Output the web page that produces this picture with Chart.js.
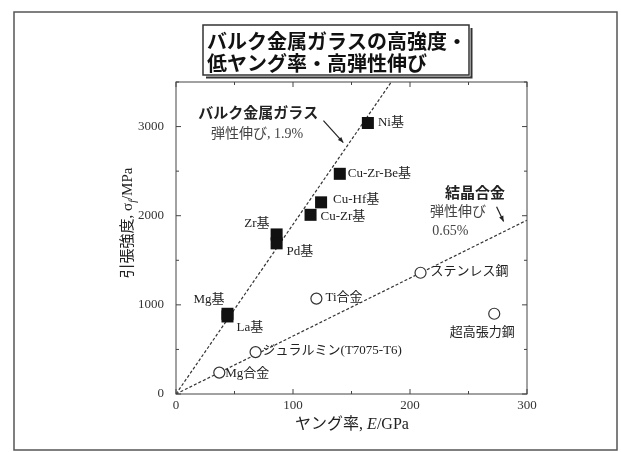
<!DOCTYPE html>
<html>
<head>
<meta charset="utf-8">
<script src="https://cdn.jsdelivr.net/npm/chart.js@4.4.0/dist/chart.umd.min.js"></script>
<style>
  body { margin: 0; background: #fff; }
  #wrap { width: 621px; height: 452px; }
</style>
</head>
<body>
<div id="wrap"><canvas id="chart" width="621" height="452"></canvas></div>
<script>
// Bulk metallic glasses (filled squares)
const glassNames = ['Ni基', 'Cu-Zr-Be基', 'Cu-Hf基', 'Cu-Zr基', 'Zr基', 'Pd基', 'Mg基', 'La基'];
const glassE = [164, 140, 124, 115, 86, 86, 44, 44];
const glassStrength = [3040, 2470, 2150, 2010, 1790, 1690, 900, 870];

// Crystalline alloys (open circles)
const crystalNames = ['Mg合金', 'ジュラルミン(T7075-T6)', 'Ti合金', 'ステンレス鋼', '超高張力鋼'];
const crystalE = [37, 68, 120, 209, 272];
const crystalStrength = [240, 470, 1070, 1360, 900];

// elastic elongation lines: 1.9% and 0.65%
const glassLineE = [0, 184];
const glassLineS = [0, 3500];
const crystalLineE = [0, 300];
const crystalLineS = [0, 1950];

const xTicks = [0, 100, 200, 300];
const yTicks = [0, 1000, 2000, 3000];

const serif = '"Liberation Serif", "Noto Sans CJK JP"';
const gothic = '"Noto Sans CJK JP"';

function pts(xs, ys) {
    return xs.map((x, i) => ({ x: x, y: ys[i] }));
}

// label offsets in pixels from each point: [dx, dy, align]
const glassLabelPos = [[10, 0, 'left'], [8, 0, 'left'], [12, -3, 'left'], [10, 2, 'left'],
                       [-7, -11, 'right'], [10, 8, 'left'], [-3, -14, 'right'], [9, 11, 'left']];
const crystalLabelPos = [[6, 1, 'left'], [7, -2, 'left'], [9, -1, 'left'], [10, -1, 'left'], [-12, 19, 'center']];

function arrow(ctx, x1, y1, x2, y2) {
    ctx.beginPath();
    ctx.moveTo(x1, y1);
    ctx.lineTo(x2, y2);
    ctx.stroke();
    const a = Math.atan2(y2 - y1, x2 - x1);
    ctx.beginPath();
    ctx.moveTo(x2, y2);
    ctx.lineTo(x2 - 6 * Math.cos(a - 0.4), y2 - 6 * Math.sin(a - 0.4));
    ctx.lineTo(x2 - 6 * Math.cos(a + 0.4), y2 - 6 * Math.sin(a + 0.4));
    ctx.closePath();
    ctx.fill();
}

const decorations = {
    id: 'decorations',
    beforeDraw(chart) {
        const ctx = chart.ctx;
        ctx.save();
        ctx.fillStyle = '#fff';
        ctx.fillRect(0, 0, chart.width, chart.height);
        ctx.restore();
    },
    afterDraw(chart) {
        const ctx = chart.ctx;
        const a = chart.chartArea;
        const xs = chart.scales.x, ys = chart.scales.y;
        ctx.save();

        // outer frame
        ctx.strokeStyle = '#555';
        ctx.lineWidth = 1.5;
        ctx.strokeRect(14, 12, 603, 438);

        // plot frame
        ctx.strokeStyle = '#444';
        ctx.lineWidth = 1;
        ctx.strokeRect(a.left, a.top, a.right - a.left, a.bottom - a.top);

        // inward ticks on all sides
        ctx.beginPath();
        for (let v = 0; v <= 300; v += 50) {
            const px = xs.getPixelForValue(v);
            const len = v % 100 === 0 ? 5 : 3;
            ctx.moveTo(px, a.bottom); ctx.lineTo(px, a.bottom - len);
            ctx.moveTo(px, a.top); ctx.lineTo(px, a.top + len);
        }
        for (let v = 0; v <= 3500; v += 500) {
            const py = ys.getPixelForValue(v);
            const len = v % 1000 === 0 ? 5 : 3;
            ctx.moveTo(a.left, py); ctx.lineTo(a.left + len, py);
            ctx.moveTo(a.right, py); ctx.lineTo(a.right - len, py);
        }
        ctx.stroke();

        // title box
        ctx.fillStyle = '#fff';
        ctx.fillRect(203, 25, 266, 50);
        ctx.strokeStyle = '#333';
        ctx.lineWidth = 1.5;
        ctx.strokeRect(203, 25, 266, 50);
        ctx.lineWidth = 2;
        ctx.beginPath();
        ctx.moveTo(206, 77.5); ctx.lineTo(471.5, 77.5); ctx.lineTo(471.5, 28);
        ctx.stroke();
        ctx.fillStyle = '#111';
        ctx.font = 'bold 20px ' + gothic;
        ctx.textBaseline = 'middle';
        ctx.textAlign = 'left';
        ctx.fillText('バルク金属ガラスの高強度・', 207, 41);
        ctx.fillText('低ヤング率・高弾性伸び', 207, 63);

        // axis titles
        ctx.fillStyle = '#222';
        const t1 = 'ヤング率, ';
        ctx.font = '16px ' + serif;
        const w1 = ctx.measureText(t1).width;
        ctx.font = 'italic 16px "Liberation Serif"';
        const w2 = ctx.measureText('E').width;
        ctx.font = '16px ' + serif;
        const w3 = ctx.measureText('/GPa').width;
        let x0 = 352 - (w1 + w2 + w3) / 2;
        ctx.fillText(t1, x0, 425);
        ctx.font = 'italic 16px "Liberation Serif"';
        ctx.fillText('E', x0 + w1, 425);
        ctx.font = '16px ' + serif;
        ctx.fillText('/GPa', x0 + w1 + w2, 425);

        ctx.save();
        ctx.translate(128, 223);
        ctx.rotate(-Math.PI / 2);
        ctx.font = '15px ' + serif;
        const s1 = '引張強度, σ';
        const sw1 = ctx.measureText(s1).width;
        ctx.font = 'italic 10px "Liberation Serif"';
        const sw2 = ctx.measureText('f').width;
        ctx.font = '15px ' + serif;
        const sw3 = ctx.measureText('/MPa').width;
        let y0 = -(sw1 + sw2 + sw3) / 2;
        ctx.fillText(s1, y0, 0);
        ctx.font = 'italic 10px "Liberation Serif"';
        ctx.fillText('f', y0 + sw1, 5);
        ctx.font = '15px ' + serif;
        ctx.fillText('/MPa', y0 + sw1 + sw2, 0);
        ctx.restore();

        // point labels
        ctx.font = '13px ' + serif;
        ctx.fillStyle = '#222';
        glassNames.forEach((n, i) => {
            const p = glassLabelPos[i];
            ctx.textAlign = p[2];
            ctx.fillText(n, xs.getPixelForValue(glassE[i]) + p[0], ys.getPixelForValue(glassStrength[i]) + p[1]);
        });
        crystalNames.forEach((n, i) => {
            const p = crystalLabelPos[i];
            ctx.textAlign = p[2];
            ctx.fillText(n, xs.getPixelForValue(crystalE[i]) + p[0], ys.getPixelForValue(crystalStrength[i]) + p[1]);
        });

        // annotations
        ctx.textAlign = 'left';
        ctx.font = 'bold 15px ' + gothic;
        ctx.fillText('バルク金属ガラス', xs.getPixelForValue(19), ys.getPixelForValue(3160));
        ctx.fillText('結晶合金', xs.getPixelForValue(230), ys.getPixelForValue(2258));
        ctx.fillStyle = '#444';
        ctx.font = '14px ' + serif;
        ctx.fillText('弾性伸び, 1.9%', xs.getPixelForValue(30), ys.getPixelForValue(2910));
        ctx.fillText('弾性伸び', xs.getPixelForValue(217), ys.getPixelForValue(2034));
        ctx.fillText('0.65%', xs.getPixelForValue(219), ys.getPixelForValue(1820));

        ctx.strokeStyle = '#222';
        ctx.fillStyle = '#222';
        ctx.lineWidth = 1.2;
        arrow(ctx, xs.getPixelForValue(126), ys.getPixelForValue(3067),
                   xs.getPixelForValue(143), ys.getPixelForValue(2820));
        arrow(ctx, xs.getPixelForValue(274), ys.getPixelForValue(2100),
                   xs.getPixelForValue(280), ys.getPixelForValue(1935));

        ctx.restore();
    }
};

const ctx = document.getElementById('chart').getContext('2d');
const chart = new Chart(ctx, {
    type: 'scatter',
    data: {
        datasets: [
            {
                label: 'バルク金属ガラス',
                data: pts(glassE, glassStrength),
                pointStyle: 'rect',
                pointRadius: 8.5,
                backgroundColor: '#111',
                borderColor: '#111',
                borderWidth: 0
            },
            {
                label: '結晶合金',
                data: pts(crystalE, crystalStrength),
                pointStyle: 'circle',
                pointRadius: 5.5,
                backgroundColor: '#fff',
                borderColor: '#333',
                borderWidth: 1.2
            },
            {
                label: '弾性伸び 1.9%',
                data: pts(glassLineE, glassLineS),
                showLine: true,
                pointRadius: 0,
                borderColor: '#333',
                borderWidth: 1.2,
                borderDash: [3, 2]
            },
            {
                label: '弾性伸び 0.65%',
                data: pts(crystalLineE, crystalLineS),
                showLine: true,
                pointRadius: 0,
                borderColor: '#333',
                borderWidth: 1.2,
                borderDash: [3, 2]
            }
        ]
    },
    options: {
        responsive: false,
        animation: false,
        devicePixelRatio: 1,
        layout: { padding: { left: 110, top: 82, right: 94, bottom: 18 } },
        plugins: {
            legend: { display: false },
            tooltip: { enabled: false }
        },
        scales: {
            x: {
                type: 'linear',
                min: 0,
                max: 300,
                afterFit: s => { s.height = 40; },
                afterBuildTicks: s => { s.ticks = xTicks.map(v => ({ value: v })); },
                grid: { display: false },
                border: { display: false },
                ticks: { padding: -4, color: '#333', font: { family: 'Liberation Serif', size: 13 },
                         callback: v => String(v) }
            },
            y: {
                type: 'linear',
                min: 0,
                max: 3500,
                afterFit: s => { s.width = 66; },
                afterBuildTicks: s => { s.ticks = yTicks.map(v => ({ value: v })); },
                grid: { display: false },
                border: { display: false },
                ticks: { padding: 4, color: '#333', font: { family: 'Liberation Serif', size: 13 },
                         callback: v => String(v) }
            }
        }
    },
    plugins: [decorations]
});
</script>
</body>
</html>
